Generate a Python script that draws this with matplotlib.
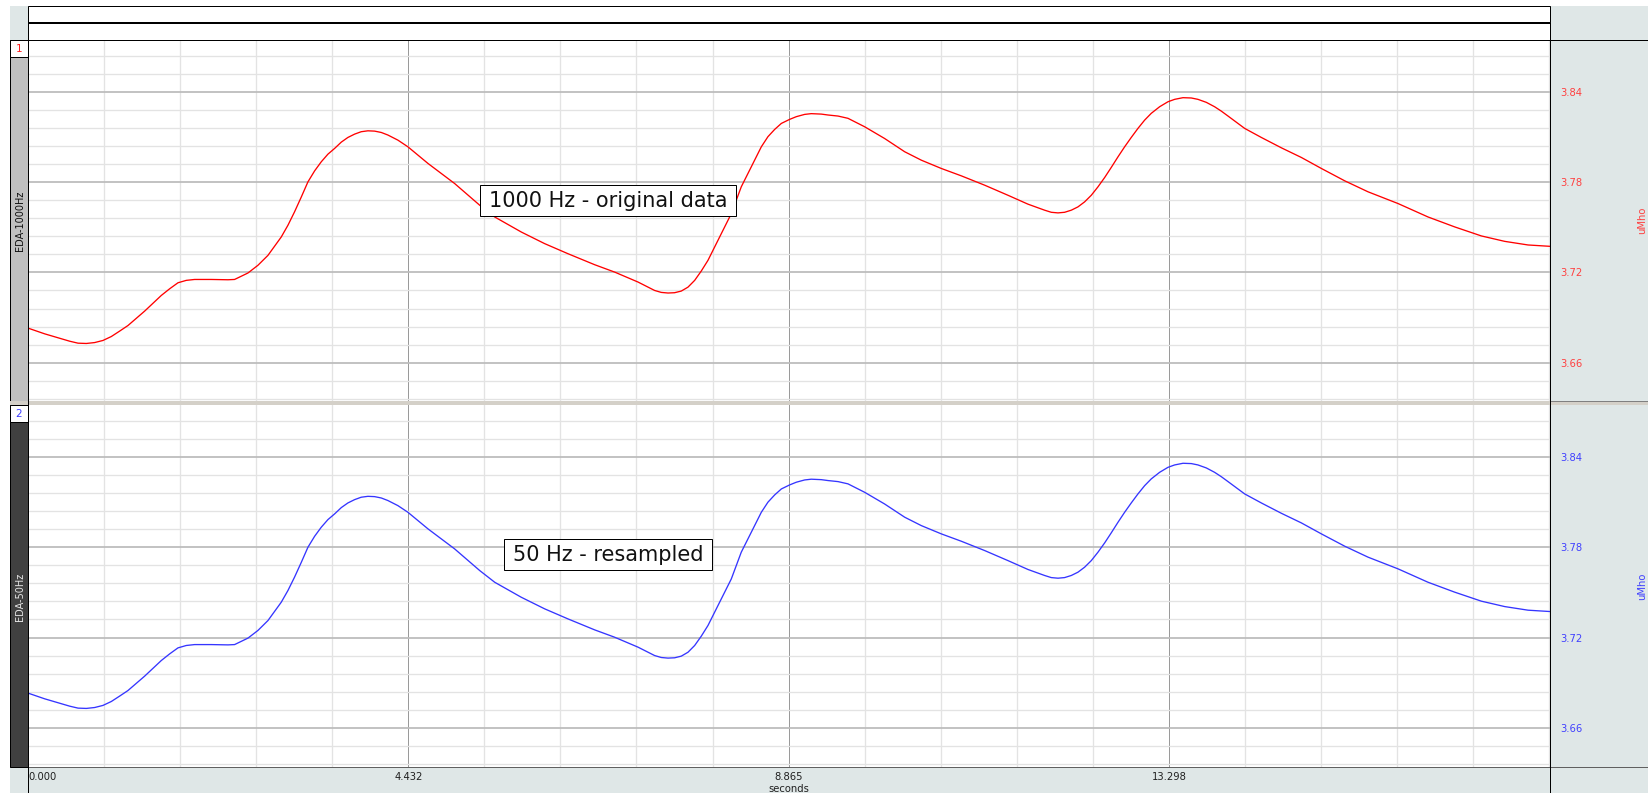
import matplotlib
matplotlib.use("Agg")
import matplotlib.pyplot as plt
from matplotlib.patches import Rectangle
from matplotlib.lines import Line2D
from matplotlib.ticker import FixedLocator, MultipleLocator

# ---------------------------------------------------------------- data
time_s = [
    0.000, 0.194, 0.388, 0.486, 0.583, 0.680, 0.777, 0.874, 0.971, 1.068,
    1.165, 1.360, 1.554, 1.651, 1.748, 1.845, 1.942, 2.136, 2.331, 2.408,
    2.564, 2.680, 2.797, 2.952, 3.030, 3.107, 3.186, 3.263, 3.341, 3.418,
    3.496, 3.574, 3.652, 3.729, 3.807, 3.884, 3.962, 4.040, 4.118, 4.195,
    4.312, 4.428, 4.663, 4.973, 5.265, 5.440, 5.750, 6.022, 6.294, 6.605,
    6.838, 7.110, 7.304, 7.382, 7.460, 7.537, 7.615, 7.693, 7.771, 7.848,
    7.926, 8.004, 8.081, 8.198, 8.314, 8.392, 8.470, 8.548, 8.625, 8.703,
    8.781, 8.878, 8.956, 9.053, 9.130, 9.247, 9.325, 9.442, 9.558, 9.752,
    9.985, 10.219, 10.413, 10.646, 10.879, 11.151, 11.423, 11.656, 11.850, 11.928,
    12.006, 12.083, 12.161, 12.239, 12.316, 12.394, 12.472, 12.550, 12.627, 12.705,
    12.783, 12.860, 12.938, 13.016, 13.093, 13.191, 13.288, 13.366, 13.463, 13.560,
    13.637, 13.735, 13.831, 13.909, 13.988, 14.182, 14.376, 14.610, 14.843, 15.076,
    15.348, 15.620, 15.970, 16.319, 16.630, 16.941, 17.213, 17.485, 17.741,
]

# skin conductance, original 1000 Hz recording (uMho)
eda_1000hz = [
    3.6830, 3.6792, 3.6759, 3.6743, 3.6730, 3.6728, 3.6734, 3.6748, 3.6774, 3.6810,
    3.6847, 3.6943, 3.7047, 3.7091, 3.7131, 3.7147, 3.7153, 3.7153, 3.7151, 3.7153,
    3.7196, 3.7247, 3.7313, 3.7435, 3.7513, 3.7602, 3.7701, 3.7801, 3.7874, 3.7934,
    3.7985, 3.8023, 3.8065, 3.8096, 3.8118, 3.8134, 3.8140, 3.8138, 3.8129, 3.8112,
    3.8078, 3.8034, 3.7923, 3.7790, 3.7646, 3.7568, 3.7468, 3.7391, 3.7324, 3.7251,
    3.7202, 3.7136, 3.7080, 3.7067, 3.7063, 3.7065, 3.7076, 3.7102, 3.7147, 3.7209,
    3.7280, 3.7369, 3.7457, 3.7590, 3.7768, 3.7857, 3.7945, 3.8034, 3.8101, 3.8149,
    3.8189, 3.8216, 3.8234, 3.8249, 3.8254, 3.8251, 3.8245, 3.8238, 3.8223, 3.8167,
    3.8089, 3.8001, 3.7945, 3.7890, 3.7841, 3.7779, 3.7712, 3.7653, 3.7613, 3.7599,
    3.7595, 3.7599, 3.7613, 3.7635, 3.7668, 3.7712, 3.7768, 3.7830, 3.7897, 3.7967,
    3.8034, 3.8096, 3.8156, 3.8211, 3.8256, 3.8300, 3.8333, 3.8349, 3.8360, 3.8358,
    3.8349, 3.8329, 3.8300, 3.8271, 3.8238, 3.8156, 3.8096, 3.8027, 3.7963, 3.7890,
    3.7808, 3.7735, 3.7657, 3.7568, 3.7502, 3.7442, 3.7406, 3.7382, 3.7373,
]

# same signal after resampling to 50 Hz (uMho)
eda_50hz = [
    3.6830, 3.6792, 3.6759, 3.6743, 3.6730, 3.6728, 3.6734, 3.6748, 3.6774, 3.6810,
    3.6847, 3.6943, 3.7047, 3.7091, 3.7131, 3.7147, 3.7153, 3.7153, 3.7151, 3.7153,
    3.7196, 3.7247, 3.7313, 3.7435, 3.7513, 3.7602, 3.7701, 3.7801, 3.7874, 3.7934,
    3.7985, 3.8023, 3.8065, 3.8096, 3.8118, 3.8134, 3.8140, 3.8138, 3.8129, 3.8112,
    3.8078, 3.8034, 3.7923, 3.7790, 3.7646, 3.7568, 3.7468, 3.7391, 3.7324, 3.7251,
    3.7202, 3.7136, 3.7080, 3.7067, 3.7063, 3.7065, 3.7076, 3.7102, 3.7147, 3.7209,
    3.7280, 3.7369, 3.7457, 3.7590, 3.7768, 3.7857, 3.7945, 3.8034, 3.8101, 3.8149,
    3.8189, 3.8216, 3.8234, 3.8249, 3.8254, 3.8251, 3.8245, 3.8238, 3.8223, 3.8167,
    3.8089, 3.8001, 3.7945, 3.7890, 3.7841, 3.7779, 3.7712, 3.7653, 3.7613, 3.7599,
    3.7595, 3.7599, 3.7613, 3.7635, 3.7668, 3.7712, 3.7768, 3.7830, 3.7897, 3.7967,
    3.8034, 3.8096, 3.8156, 3.8211, 3.8256, 3.8300, 3.8333, 3.8349, 3.8360, 3.8358,
    3.8349, 3.8329, 3.8300, 3.8271, 3.8238, 3.8156, 3.8096, 3.8027, 3.7963, 3.7890,
    3.7808, 3.7735, 3.7657, 3.7568, 3.7502, 3.7442, 3.7406, 3.7382, 3.7373,
]

x_ticks = [0.0, 4.4327, 8.8653, 13.298]
x_tick_labels = ["0.000", "4.432", "8.865", "13.298"]
y_ticks = [3.66, 3.72, 3.78, 3.84]
y_tick_labels = ["3.66", "3.72", "3.78", "3.84"]
channel_ids = ["1", "2"]
channel_names = ["EDA-1000Hz", "EDA-50Hz"]
channel_notes = ["1000 Hz - original data", "50 Hz - resampled"]
unit_label = "uMho"
time_label = "seconds"

# ---------------------------------------------------------------- layout helpers
W, H, DPI = 1648, 793, 100
PX = 72.0 / DPI          # one pixel in points
PANEL_BG = "#dfe7e7"
SMALL = 7.2

fig = plt.figure(figsize=(W / DPI, H / DPI), dpi=DPI)
fig.patch.set_facecolor("white")


def rect_frac(x0, y0, x1, y1):
    """Pixel box (origin top-left) -> figure fraction [l, b, w, h]."""
    return [x0 / W, 1 - y1 / H, (x1 - x0) / W, (y1 - y0) / H]


def box(x0, y0, x1, y1, fc, ec="none", lw=0.0, z=1):
    l, b, w, h = rect_frac(x0, y0, x1, y1)
    fig.add_artist(Rectangle((l, b), w, h, transform=fig.transFigure,
                             facecolor=fc, edgecolor=ec, linewidth=lw * PX,
                             zorder=z))


def seg(x0, y0, x1, y1, color="black", lw=1.0, z=3):
    fig.add_artist(Line2D([x0 / W, x1 / W], [1 - y0 / H, 1 - y1 / H],
                          transform=fig.transFigure, color=color,
                          linewidth=lw * PX, zorder=z, solid_capstyle="butt"))


def ftext(x, y, s, **kw):
    fig.text(x / W, 1 - y / H, s, **kw)


# ---------------------------------------------------------------- frame / chrome
# right-hand scale column and bottom time band
box(1550, 6, 1648, 793, PANEL_BG)
box(10, 767, 1648, 793, PANEL_BG)
box(10, 6, 28, 40, PANEL_BG)

# header strips
box(28, 6, 1550, 22, "white", "black", 1.0, z=3)
box(28, 22, 1550, 40, "white", "black", 1.0, z=3)
seg(28, 22.5, 1550, 22.5, "black", 2.0)

# left channel strips
box(10, 40, 28, 401, "#c0c0c0", "black", 1.0, z=3)
box(10, 40, 28, 57, "white", "black", 1.0, z=3)
box(10, 405, 28, 767, "#404040", "black", 1.0, z=3)
box(10, 405, 28, 422, "white", "black", 1.0, z=3)

# splitter between the two channels
box(10, 401, 1648, 405, "#d4d0c8", z=3)
seg(1550, 401, 1648, 401, "#808080", 1.0)

# outline lines
seg(1550, 40, 1648, 40, "black", 1.0)
seg(28, 767, 1648, 767, "#606060", 1.0)
seg(1550, 40, 1550, 793, "black", 1.0)
seg(28, 40, 28, 793, "black", 1.0)

# ---------------------------------------------------------------- channel axes
x_max = 17.741
panels = [
    dict(rect=(28, 40, 1550, 401), ylim=(3.6346, 3.8743), y=eda_1000hz,
         color="#ff0000", tick_color="#ff4040"),
    dict(rect=(28, 405, 1550, 767), ylim=(3.6338, 3.8748), y=eda_50hz,
         color="#3535ff", tick_color="#4040ff"),
]

axes = []
for i, p in enumerate(panels):
    ax = fig.add_axes(rect_frac(*p["rect"]))
    ax.set_zorder(2)
    ax.set_facecolor("white")
    ax.plot(time_s, p["y"], color=p["color"], linewidth=0.95, zorder=3)
    ax.set_xlim(0, x_max)
    ax.set_ylim(*p["ylim"])

    ax.xaxis.set_major_locator(FixedLocator(x_ticks))
    ax.xaxis.set_minor_locator(MultipleLocator(x_ticks[1] / 5))
    ax.yaxis.set_major_locator(FixedLocator(y_ticks))
    ax.yaxis.set_minor_locator(MultipleLocator(0.012))

    ax.grid(which="minor", axis="both", color="#e3e3e3", linewidth=1.3 * PX)
    ax.grid(which="major", axis="y", color="#bdbdbd", linewidth=1.8 * PX)
    ax.grid(which="major", axis="x", color="#9a9a9a", linewidth=1.0 * PX)
    ax.set_axisbelow(True)

    for sp in ax.spines.values():
        sp.set_visible(False)

    ax.yaxis.tick_right()
    ax.set_yticklabels(y_tick_labels)
    ax.tick_params(axis="y", which="both", length=0, pad=10 * PX,
                   labelsize=SMALL, labelcolor=p["tick_color"])

    ax.yaxis.set_label_position("right")
    ax.set_ylabel(unit_label, color=p["tick_color"], fontsize=SMALL,
                  rotation=90)
    ax.yaxis.set_label_coords((1642 - 28) / 1522, 0.5)
    ax.yaxis.label.set_va("center")
    ax.yaxis.label.set_ha("center")

    if i == 0:
        ax.tick_params(axis="x", which="both", length=0, labelbottom=False)
    else:
        ax.set_xticklabels(x_tick_labels)
        ax.tick_params(axis="x", which="both", length=0, pad=4.5 * PX,
                       labelsize=SMALL, labelcolor="#202020")
        ax.xaxis.get_major_ticks()[0].label1.set_horizontalalignment("left")
        ax.set_xlabel(time_label, fontsize=SMALL, color="#202020")
        ax.xaxis.set_label_coords(0.5, (767 - 789) / 362)
        ax.xaxis.label.set_va("center")
    axes.append(ax)

# ---------------------------------------------------------------- channel captions
ftext(19, 48.5, channel_ids[0], color="#ff2020", fontsize=7.5,
      ha="center", va="center", zorder=4)
ftext(19, 413.5, channel_ids[1], color="#3b3bff", fontsize=7.5,
      ha="center", va="center", zorder=4)
ftext(19.5, 221, channel_names[0], color="#101010", fontsize=7.0,
      rotation=90, ha="center", va="center", zorder=4)
ftext(19.5, 597, channel_names[1], color="#e6e6e6", fontsize=7.0,
      rotation=90, ha="center", va="center", zorder=4)

# ---------------------------------------------------------------- note boxes
box(480, 185, 736, 216, "white", "black", 1.0, z=4)
ftext(608, 201, channel_notes[0], fontsize=15, color="#111111",
      ha="center", va="center", zorder=5)
box(504, 539, 712, 570, "white", "black", 1.0, z=4)
ftext(608, 555, channel_notes[1], fontsize=15, color="#111111",
      ha="center", va="center", zorder=5)

fig.savefig("out.png", dpi=DPI, facecolor="white")
